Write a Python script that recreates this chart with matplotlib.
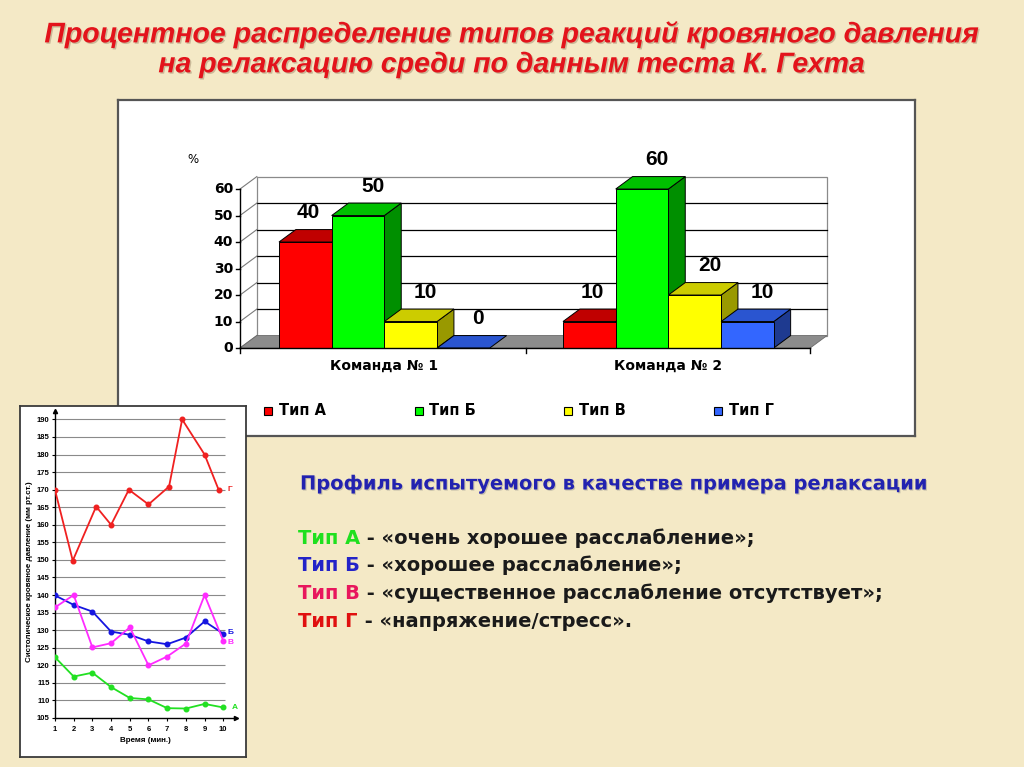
import matplotlib
matplotlib.use("Agg")
import matplotlib.pyplot as plt
import matplotlib.patheffects as pe
from matplotlib.patches import Polygon
import numpy as np

plt.rcParams["font.family"] = ["Liberation Sans", "DejaVu Sans"]
WIDE = ["DejaVu Sans"]

W, H = 1024, 767
BG = "#F4E9C6"

# ── data ──────────────────────────────────────────────────────────────────────
teams = ["Команда № 1", "Команда № 2"]
types = ["Тип А", "Тип Б", "Тип В", "Тип Г"]
type_a = [40, 10]
type_b = [50, 60]
type_v = [10, 20]
type_g = [0, 10]
y_ticks_pct = [0, 10, 20, 30, 40, 50, 60]

minutes = [1, 2, 3, 4, 5, 6, 7, 8, 9, 10]
minutes_g = [1, 1.95, 3.2, 4, 4.95, 6, 7.1, 7.8, 9, 9.75]
bp_a = [122.3, 116.8, 117.9, 113.8, 110.7, 110.3, 107.8, 107.7, 109, 108]
bp_b = [139.9, 137.2, 135.3, 129.6, 128.7, 126.8, 126, 127.9, 132.5, 129]
bp_v = [136.5, 140, 125.1, 126.3, 130.8, 120, 122.5, 126.2, 140, 127]
bp_g = [169.9, 149.8, 165.2, 160, 170, 165.8, 170.9, 190, 180, 170]
bp_ticks = list(range(105, 191, 5))

title_1 = "Процентное распределение типов реакций кровяного давления"
title_2 = "на релаксацию среди по данным теста К. Гехта"
profile = "Профиль испытуемого в качестве примера релаксации"
descr = [
    ("Тип А", " - «очень хорошее расслабление»;", "#1FE01F"),
    ("Тип Б", " - «хорошее расслабление»;", "#2323C8"),
    ("Тип В", " - «существенное расслабление отсутствует»;", "#E8175D"),
    ("Тип Г", " - «напряжение/стресс».", "#E01010"),
]

# colours: front / top / side faces
FRONT = ["#FF0000", "#00FF00", "#FFFF00", "#3366FF"]
TOP = ["#C00000", "#00C000", "#CCCC00", "#2A55D0"]
SIDE = ["#900000", "#008F00", "#999900", "#1E3A90"]


def px_rect(x0, y0, x1, y1):
    return [x0 / W, 1 - y1 / H, (x1 - x0) / W, (y1 - y0) / H]


fig = plt.figure(figsize=(W / 100, H / 100), dpi=100)
fig.patch.set_facecolor(BG)

shadow = [pe.withSimplePatchShadow(offset=(1.0, -1.0), shadow_rgbFace="#6b4a30", alpha=0.3)]
fig.text(512 / W, 1 - 35 / H, title_1, ha="center", va="center", fontsize=20.5,
         fontweight="bold", style="italic", color="#E3131B", path_effects=shadow)
fig.text(512 / W, 1 - 65 / H, title_2, ha="center", va="center", fontsize=20.5,
         fontweight="bold", style="italic", color="#E3131B", path_effects=shadow)

# ── 3D-look bar chart ────────────────────────────────────────────────────────
ax = fig.add_axes(px_rect(118, 100, 915, 436))
ax.set_facecolor("white")
for s in ax.spines.values():
    s.set_color("#555555")
    s.set_linewidth(1.6)
ax.set_xticks([])
ax.set_yticks([])
ax.set_xlim(-3.055, 12.07)
ax.set_ylim(-33.2, 93.6)

DX, DY = 0.32, 4.7
X0, X1 = -0.74, 10.08
BW = 1.0
group_start = [0.0, 5.39]

# back wall and side wall
ax.add_patch(Polygon([(X0 + DX, DY), (X1 + DX, DY), (X1 + DX, 60 + DY), (X0 + DX, 60 + DY)],
                     facecolor="white", edgecolor="#8a8a8a", lw=0.9, zorder=1))
for v in y_ticks_pct[1:-1]:
    ax.plot([X0 + DX, X1 + DX], [v + DY, v + DY], color="black", lw=0.9, zorder=1.1)
for v in y_ticks_pct:
    ax.plot([X0, X0 + DX], [v, v + DY], color="#7a7a7a", lw=0.8, zorder=1.1)
ax.add_patch(Polygon([(X0, 0), (X1, 0), (X1 + DX, DY), (X0 + DX, DY)],
                     facecolor="#8C8C8C", edgecolor="#6a6a6a", lw=0.6, zorder=1.2))

# front axes
ax.plot([X0, X0], [0, 60], color="black", lw=1.0, zorder=6)
ax.plot([X0, X1], [0, 0], color="black", lw=1.0, zorder=6)
for v in y_ticks_pct:
    ax.plot([X0 - 0.08, X0], [v, v], color="black", lw=1.0, zorder=6)
    ax.text(X0 - 0.13, v, str(v), ha="right", va="center", fontsize=10,
            fontweight="bold", color="black", family=WIDE)
for xt in [X0, (group_start[0] + 4 + group_start[1]) / 2, X1]:
    ax.plot([xt, xt], [0, -2.0], color="black", lw=1.0, zorder=6)
ax.text(X0 - 0.9, 71, "%", ha="center", va="center", fontsize=8.5, color="black",
        family=WIDE)

series = [type_a, type_b, type_v, type_g]
z = 2
for g, gx in enumerate(group_start):
    ax.text(gx + 2, -6.6, teams[g], ha="center", va="center", fontsize=10,
            fontweight="bold", color="black", family=WIDE)
    for k, vals in enumerate(series):
        h = vals[g]
        x0 = gx + k * BW
        x1 = x0 + BW
        if h > 0:
            ax.add_patch(Polygon([(x1, 0), (x1 + DX, DY), (x1 + DX, h + DY), (x1, h)],
                                 facecolor=SIDE[k], edgecolor="black", lw=0.7, zorder=z))
        ax.add_patch(Polygon([(x0, h), (x0 + DX, h + DY), (x1 + DX, h + DY), (x1, h)],
                             facecolor=TOP[k], edgecolor="black", lw=0.7, zorder=z))
        if h > 0:
            ax.add_patch(Polygon([(x0, 0), (x1, 0), (x1, h), (x0, h)],
                                 facecolor=FRONT[k], edgecolor="black", lw=0.7, zorder=z))
        z += 0.1
        shift = 0.05 if k == 0 else 0.28
        ax.text(x0 + BW / 2 + shift, h + DY + 6.4, str(h), ha="center", va="center",
                fontsize=15, fontweight="bold", color="black", zorder=8)

# legend
leg_x = [-0.2, 2.65, 5.49, 8.34]
for k, name in enumerate(types):
    ax.plot([leg_x[k]], [-23.6], marker="s", ms=6, mfc=FRONT[k], mec="black",
            mew=0.8, ls="none", clip_on=False)
    ax.text(leg_x[k] + 0.2, -23.6, name, ha="left", va="center", fontsize=10.5,
            fontweight="bold", color="black", family=WIDE)

# ── small line chart ─────────────────────────────────────────────────────────
box = fig.add_axes(px_rect(20, 406, 246, 757))
box.set_facecolor("white")
box.set_xticks([])
box.set_yticks([])
for s in box.spines.values():
    s.set_color("#3a3a3a")
    s.set_linewidth(1.3)

ax2 = fig.add_axes(px_rect(55, 411, 236, 718))
ax2.patch.set_alpha(0)
ax2.set_xlim(1, 10.68)
ax2.set_ylim(105, 192.4)
ax2.spines["top"].set_visible(False)
ax2.spines["right"].set_visible(False)
for s in ["left", "bottom"]:
    ax2.spines[s].set_linewidth(1.0)
ax2.plot(1, 0, ">k", ms=3, transform=ax2.transAxes, clip_on=False)
ax2.plot(0, 1, "^k", ms=3, transform=ax2.transAxes, clip_on=False)
ax2.set_xticks(minutes)
ax2.set_yticks(bp_ticks)
ax2.tick_params(axis="y", labelsize=5.5, length=2.5, width=0.8, pad=1.5)
ax2.tick_params(axis="x", labelsize=5.5, length=2.5, width=0.8, pad=3.5)
for lab in ax2.get_xticklabels() + ax2.get_yticklabels():
    lab.set_fontweight("bold")
ax2.hlines(bp_ticks[1:], 1, 10.1, color="#8a8a8a", lw=0.8, zorder=1)

lines = [
    (minutes_g, bp_g, "#F02020", "Г", 10.2, 170),
    (minutes, bp_b, "#1515E0", "Б", 10.2, 129.3),
    (minutes, bp_v, "#FF2BFF", "В", 10.2, 126.6),
    (minutes, bp_a, "#22E022", "А", 10.45, 107.9),
]
for xs, ys, col, lab, lx, ly in lines:
    ax2.plot(xs, ys, color=col, lw=1.3, marker="o", ms=3.3, zorder=3)
    ax2.text(lx, ly, lab, color=col, fontsize=6, fontweight="bold", ha="left",
             va="center", clip_on=False)

ax2.set_xlabel("Время (мин.)", fontsize=5.8, fontweight="bold", labelpad=2.5)
fig.text(30 / W, 1 - 572 / H, "Систолическое кровяное давление (мм рт.ст.)", rotation=90,
         ha="center", va="center", fontsize=5.8, fontweight="bold")

# ── text block ───────────────────────────────────────────────────────────────
ax_t = fig.add_axes([0, 0, 1, 1], zorder=10)
ax_t.set_axis_off()
ax_t.patch.set_alpha(0)
ax_t.text(300 / W, 1 - 484 / H, profile, ha="left", va="center", fontsize=14,
          fontweight="bold", color="#2222B0", family=WIDE,
          path_effects=[pe.withSimplePatchShadow(offset=(0.8, -0.8), shadow_rgbFace="#777777", alpha=0.35)])
for i, (head, rest, col) in enumerate(descr):
    t = ax_t.text(298 / W, 1 - (538 + 27.7 * i) / H, head, ha="left", va="center",
                  fontsize=14, fontweight="bold", color=col, family=WIDE)
    ax_t.annotate(rest, xy=(1, 0), xycoords=t, ha="left", va="bottom",
                  fontsize=14, fontweight="bold", color="#1a1a1a", family=WIDE)

fig.savefig("out.png", dpi=100, facecolor=BG)
